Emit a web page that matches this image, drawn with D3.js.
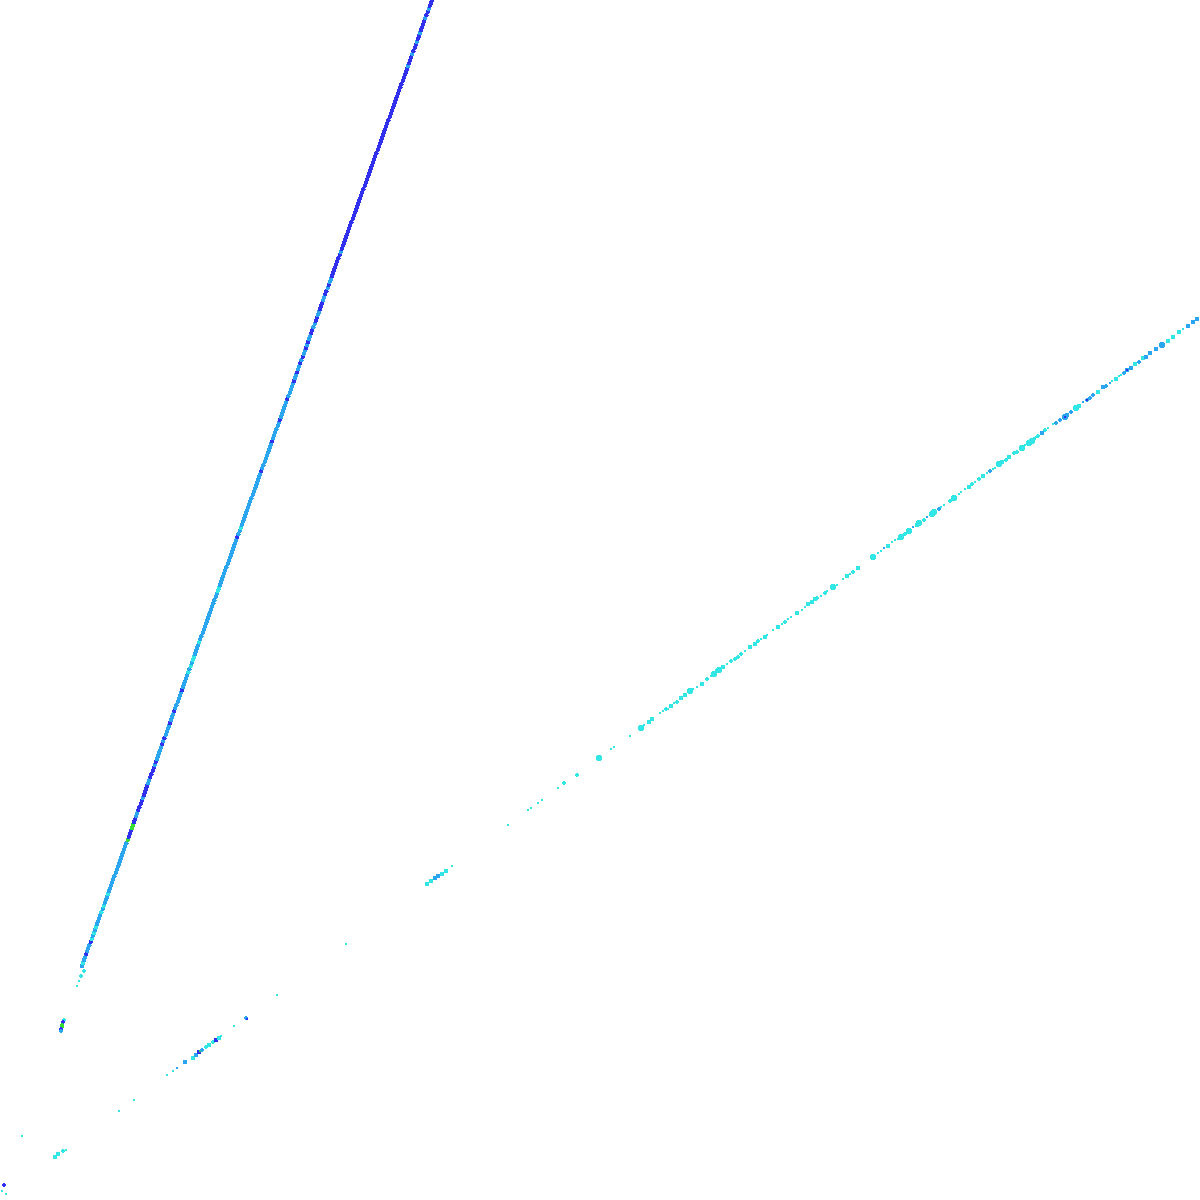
<!DOCTYPE html>
<html>
<head>
<meta charset="utf-8">
<script src="https://cdnjs.cloudflare.com/ajax/libs/d3/7.8.5/d3.min.js"></script>
<style>
  html, body { margin: 0; padding: 0; background: #ffffff; }
  svg { display: block; }
</style>
</head>
<body>
<div id="chart"></div>
<script>
var width = 1200, height = 1200;

// axis domains (no axes are drawn in the picture)
var xDomain = [0, 120];
var yDomain = [0, 120];

// colour categories: c = cyan, s = sky, b = blue, g = green
var categoryKeys = ["c", "s", "b", "g"];
var categoryColors = ["#33e6e6", "#2aa6f0", "#3030ee", "#33dd33"];

// steep band, [x, y]
var steepPoints = [
  [8.19,23.4],[8.30,23.7],[8.41,24.0],[8.52,24.3],[8.63,24.6],[8.73,24.9],[8.84,25.2],[8.95,25.5],[9.06,25.8],[9.17,26.1],
  [9.28,26.4],[9.39,26.7],[9.49,27.0],[9.60,27.3],[9.71,27.6],[9.82,27.9],[9.93,28.2],[10.04,28.5],[10.15,28.8],[10.26,29.1],
  [10.36,29.4],[10.47,29.7],[10.58,30.0],[10.69,30.3],[10.80,30.6],[10.91,30.9],[11.02,31.2],[11.13,31.5],[11.23,31.8],[11.34,32.1],
  [11.45,32.4],[11.56,32.7],[11.67,33.0],[11.78,33.3],[11.89,33.6],[12.00,33.9],[12.10,34.2],[12.21,34.5],[12.32,34.8],[12.43,35.1],
  [12.54,35.4],[12.65,35.7],[12.76,36.0],[12.87,36.3],[12.97,36.6],[13.08,36.9],[13.19,37.2],[13.30,37.5],[13.41,37.8],[13.52,38.1],
  [13.63,38.4],[13.74,38.7],[13.84,39.0],[13.95,39.3],[14.06,39.6],[14.17,39.9],[14.28,40.2],[14.39,40.5],[14.50,40.8],[14.60,41.1],
  [14.71,41.4],[14.82,41.7],[14.93,42.0],[15.04,42.3],[15.15,42.6],[15.26,42.9],[15.37,43.2],[15.47,43.5],[15.58,43.8],[15.69,44.1],
  [15.80,44.4],[15.91,44.7],[16.02,45.0],[16.13,45.3],[16.24,45.6],[16.34,45.9],[16.45,46.2],[16.56,46.5],[16.67,46.8],[16.78,47.1],
  [16.89,47.4],[17.00,47.7],[17.10,48.0],[17.21,48.3],[17.32,48.6],[17.43,48.9],[17.54,49.2],[17.65,49.5],[17.76,49.8],[17.87,50.1],
  [17.98,50.4],[18.08,50.7],[18.19,51.0],[18.30,51.3],[18.41,51.6],[18.52,51.9],[18.63,52.2],[18.74,52.5],[18.85,52.8],[18.95,53.1],
  [19.06,53.4],[19.17,53.7],[19.28,54.0],[19.39,54.3],[19.50,54.6],[19.61,54.9],[19.71,55.2],[19.82,55.5],[19.93,55.8],[20.04,56.1],
  [20.15,56.4],[20.26,56.7],[20.37,57.0],[20.47,57.3],[20.58,57.6],[20.69,57.9],[20.80,58.2],[20.91,58.5],[21.02,58.8],[21.13,59.1],
  [21.24,59.4],[21.35,59.7],[21.45,60.0],[21.56,60.3],[21.67,60.6],[21.78,60.9],[21.89,61.2],[22.00,61.5],[22.11,61.8],[22.21,62.1],
  [22.32,62.4],[22.43,62.7],[22.54,63.0],[22.65,63.3],[22.76,63.6],[22.87,63.9],[22.98,64.2],[23.09,64.5],[23.19,64.8],[23.30,65.1],
  [23.41,65.4],[23.52,65.7],[23.63,66.0],[23.74,66.3],[23.85,66.6],[23.96,66.9],[24.06,67.2],[24.17,67.5],[24.28,67.8],[24.39,68.1],
  [24.50,68.4],[24.61,68.7],[24.72,69.0],[24.82,69.3],[24.93,69.6],[25.04,69.9],[25.15,70.2],[25.26,70.5],[25.37,70.8],[25.48,71.1],
  [25.59,71.4],[25.69,71.7],[25.80,72.0],[25.91,72.3],[26.02,72.6],[26.13,72.9],[26.24,73.2],[26.35,73.5],[26.46,73.8],[26.56,74.1],
  [26.67,74.4],[26.78,74.7],[26.89,75.0],[27.00,75.3],[27.11,75.6],[27.22,75.9],[27.32,76.2],[27.43,76.5],[27.54,76.8],[27.65,77.1],
  [27.76,77.4],[27.87,77.7],[27.98,78.0],[28.09,78.3],[28.20,78.6],[28.30,78.9],[28.41,79.2],[28.52,79.5],[28.63,79.8],[28.74,80.1],
  [28.85,80.4],[28.96,80.7],[29.06,81.0],[29.17,81.3],[29.28,81.6],[29.39,81.9],[29.50,82.2],[29.61,82.5],[29.72,82.8],[29.82,83.1],
  [29.93,83.4],[30.04,83.7],[30.15,84.0],[30.26,84.3],[30.37,84.6],[30.48,84.9],[30.59,85.2],[30.70,85.5],[30.80,85.8],[30.91,86.1],
  [31.02,86.4],[31.13,86.7],[31.24,87.0],[31.35,87.3],[31.46,87.6],[31.56,87.9],[31.67,88.2],[31.78,88.5],[31.89,88.8],[32.00,89.1],
  [32.11,89.4],[32.22,89.7],[32.33,90.0],[32.43,90.3],[32.54,90.6],[32.65,90.9],[32.76,91.2],[32.87,91.5],[32.98,91.8],[33.09,92.1],
  [33.20,92.4],[33.30,92.7],[33.41,93.0],[33.52,93.3],[33.63,93.6],[33.74,93.9],[33.85,94.2],[33.96,94.5],[34.07,94.8],[34.17,95.1],
  [34.28,95.4],[34.39,95.7],[34.50,96.0],[34.61,96.3],[34.72,96.6],[34.83,96.9],[34.93,97.2],[35.04,97.5],[35.15,97.8],[35.26,98.1],
  [35.37,98.4],[35.48,98.7],[35.59,99.0],[35.70,99.3],[35.80,99.6],[35.91,99.9],[36.02,100.2],[36.13,100.5],[36.24,100.8],[36.35,101.1],
  [36.46,101.4],[36.57,101.7],[36.67,102.0],[36.78,102.3],[36.89,102.6],[37.00,102.9],[37.11,103.2],[37.22,103.5],[37.33,103.8],[37.44,104.1],
  [37.54,104.4],[37.65,104.7],[37.76,105.0],[37.87,105.3],[37.98,105.6],[38.09,105.9],[38.20,106.2],[38.31,106.5],[38.41,106.8],[38.52,107.1],
  [38.63,107.4],[38.74,107.7],[38.85,108.0],[38.96,108.3],[39.07,108.6],[39.18,108.9],[39.28,109.2],[39.39,109.5],[39.50,109.8],[39.61,110.1],
  [39.72,110.4],[39.83,110.7],[39.94,111.0],[40.05,111.3],[40.15,111.6],[40.26,111.9],[40.37,112.2],[40.48,112.5],[40.59,112.8],[40.70,113.1],
  [40.81,113.4],[40.92,113.7],[41.02,114.0],[41.13,114.3],[41.24,114.6],[41.35,114.9],[41.46,115.2],[41.57,115.5],[41.68,115.8],[41.78,116.1],
  [41.89,116.4],[42.00,116.7],[42.11,117.0],[42.22,117.3],[42.33,117.6],[42.44,117.9],[42.54,118.2],[42.65,118.5],[42.76,118.8],[42.87,119.1],
  [42.98,119.4],[43.09,119.7],[43.20,120.0]
];
// one category per steep point, in the same order
var steepCategories =
  "scssbsssbc" + "scscsssscs" + "cssscsssss" + "ssssssssss" + "ssgbbbggbb" +
  "ssbbbbsbbb" + "bssbbbbsbs" + "ssssbsbsss" + "sbsssbssss" + "ssbssssscs" +
  "csccsssscs" + "ssssssssss" + "sssssccsss" + "ssssssssss" + "sssbsscsss" +
  "ssssssssss" + "sssssbssss" + "sssssbssss" + "ssbssssssb" + "sssssbssbs" +
  "sbsbssbsbs" + "sbbssbbssb" + "bbssbbsbss" + "bbbbbbbbsb" + "bbbbbbbbbb" +
  "bbbbbbbbbb" + "bbbbbbbbbb" + "bbbbbbbbbb" + "bbbbbbbbbb" + "bbbbbbbbbb" +
  "sbbbsbbbsb" + "bsbbbbsbbs" + "bbb";

// loose points below the steep band, [x, y, size, category]
var steepExtra = [
  [8.4,22.9,2,"c"],[8.1,22.4,2,"c"],[7.9,21.9,1,"c"],[7.7,21.4,1,"c"],
  [6.4,18.0,2,"c"],[6.3,17.8,2,"b"],[6.2,17.5,2,"g"],[6.2,17.3,2,"g"],[6.1,17.1,2,"b"],[6.1,16.9,2,"s"],
  [2.2,6.4,1,"c"],[0.4,1.5,2,"b"],[0.2,0.9,1,"c"],[0.6,0.6,1,"c"]
];

// shallow band, [x, y, size, category]
var shallowPoints = [
  [5.5,4.3,3,"c"],[5.8,4.6,3,"c"],[6.3,4.9,2,"c"],[6.6,5.0,1,"c"],
  [11.9,8.9,1,"c"],[13.4,10.0,1,"c"],[16.7,12.5,1,"c"],[17.3,12.9,1,"c"],[17.7,13.2,1,"s"],
  [18.5,13.8,3,"s"],[19.3,14.2,3,"c"],[19.6,14.5,3,"s"],[19.9,14.8,3,"b"],[20.0,14.9,1,"g"],[20.2,15.0,2,"s"],
  [20.6,15.3,2,"c"],[20.9,15.5,3,"c"],[21.3,15.8,2,"c"],[21.6,16.0,3,"b"],[21.9,16.2,3,"c"],[22.1,16.4,1,"c"],
  [23.4,17.4,1,"c"],[24.6,18.2,2,"s"],[24.7,18.1,1,"b"],[27.7,20.5,1,"c"],[34.6,25.6,1,"c"],
  [42.7,31.6,3,"c"],[43.1,31.9,3,"c"],[43.5,32.2,3,"s"],[43.8,32.4,3,"s"],[44.2,32.6,3,"c"],[44.6,32.9,3,"c"],[45.2,33.4,1,"c"],
  [50.8,37.5,1,"c"],[52.8,39.0,1,"c"],[53.1,39.2,1,"c"],[53.8,39.7,1,"c"],[54.2,40.0,1,"c"],
  [55.8,41.2,1,"c"],[56.4,41.7,2,"c"],[57.7,42.5,2,"c"],[59.9,44.2,4,"c"],[61.1,45.1,1,"c"],[61.4,45.3,1,"c"],[63.0,46.4,1,"c"],
  [64.1,47.2,4,"c"],[64.4,47.5,1,"c"],[64.9,47.8,3,"c"],[65.2,48.1,3,"c"],[66.0,48.7,1,"c"],[66.3,48.9,1,"c"],
  [66.6,49.1,2,"c"],[66.8,49.1,1,"c"],[67.1,49.4,3,"c"],[67.4,49.7,1,"c"],[67.7,49.8,2,"c"],[68.1,50.2,3,"c"],
  [68.5,50.5,3,"c"],[69.0,50.9,4,"c"],[69.3,51.1,1,"c"],[69.7,51.3,1,"c"],[70.2,51.6,3,"c"],[70.7,52.1,2,"c"],
  [71.1,52.4,1,"c"],[71.4,52.6,4,"c"],[71.7,52.9,3,"c"],[71.9,53.0,4,"c"],[72.3,53.3,3,"c"],[72.7,53.6,1,"c"],
  [73.1,53.9,2,"c"],[73.5,54.1,2,"c"],[73.8,54.3,2,"c"],[74.1,54.6,2,"c"],[74.5,54.9,1,"c"],[75.0,55.3,3,"c"],
  [75.5,55.6,3,"c"],[75.8,55.9,2,"c"],[76.1,56.1,1,"c"],[76.5,56.3,3,"c"],[76.7,56.5,1,"c"],[77.3,57.0,1,"c"],
  [77.8,57.3,3,"c"],[78.2,57.6,1,"c"],[78.5,57.8,2,"c"],[78.8,58.1,1,"c"],[79.1,58.3,1,"c"],[79.7,58.7,3,"c"],
  [80.2,59.0,1,"c"],[80.5,59.3,1,"c"],[80.8,59.6,3,"c"],[81.2,59.8,3,"c"],[81.5,60.1,3,"c"],[81.7,60.2,2,"c"],
  [82.1,60.4,1,"c"],[82.5,60.7,2,"c"],[82.7,60.9,1,"c"],[83.3,61.3,4,"c"],[83.7,61.5,1,"c"],[84.3,62.1,1,"c"],
  [84.7,62.4,3,"c"],[85.0,62.6,1,"c"],[85.3,62.8,2,"c"],[85.8,63.2,3,"c"],
  [87.3,64.3,4,"c"],[87.8,64.7,1,"c"],[88.1,64.9,1,"c"],[88.4,65.2,1,"s"],[88.8,65.4,3,"c"],[89.2,65.8,1,"c"],
  [89.5,66.0,1,"c"],[89.8,66.1,1,"c"],[90.1,66.3,4,"c"],[90.5,66.6,2,"c"],[90.9,66.9,4,"c"],[91.3,67.3,1,"s"],
  [91.7,67.5,3,"c"],[91.9,67.7,4,"c"],[92.4,68.0,2,"c"],[92.7,68.3,1,"s"],[93.2,68.6,4,"c"],[93.4,68.8,4,"c"],
  [93.9,69.1,2,"s"],[94.1,69.3,1,"c"],[94.4,69.5,1,"c"],[95.0,69.9,2,"c"],[95.4,70.2,4,"c"],[95.9,70.6,1,"c"],
  [96.1,70.8,1,"c"],[96.5,71.1,1,"c"],[96.9,71.3,3,"c"],[97.2,71.6,2,"c"],[97.5,71.8,1,"c"],[97.9,72.1,2,"c"],
  [98.3,72.4,3,"c"],[98.7,72.7,1,"c"],[99.0,72.9,2,"s"],[99.3,73.1,1,"c"],[99.5,73.2,1,"c"],[99.9,73.6,4,"c"],
  [100.2,73.8,3,"c"],[100.6,74.0,2,"c"],[100.9,74.3,3,"c"],[101.4,74.7,2,"c"],[101.7,74.8,2,"c"],[102.2,75.2,4,"c"],
  [102.5,75.5,1,"c"],[102.9,75.7,4,"c"],[103.2,75.9,4,"c"],[103.4,76.1,2,"c"],[103.6,76.3,1,"c"],[103.8,76.4,2,"c"],
  [104.2,76.7,3,"s"],[104.5,77.0,2,"c"],[104.8,77.2,1,"c"],[105.3,77.6,1,"c"],[105.6,77.7,2,"s"],[106.0,78.0,2,"s"],
  [106.5,78.3,4,"s"],[106.7,78.5,3,"s"],[107.1,78.8,2,"s"],[107.6,79.2,4,"c"],[107.9,79.4,3,"c"],[108.3,79.8,1,"s"],
  [108.7,80.0,2,"s"],[109.0,80.2,2,"s"],[109.3,80.5,2,"s"],[109.8,80.8,3,"c"],[110.3,81.3,3,"s"],[110.6,81.4,2,"s"],
  [111.0,81.7,1,"s"],[111.2,81.9,1,"c"],[111.6,82.1,3,"c"],[111.9,82.4,1,"c"],[112.1,82.5,1,"c"],[112.4,82.7,2,"s"],
  [112.7,83.0,3,"s"],[113.1,83.2,3,"s"],[113.5,83.6,3,"c"],[113.9,83.8,2,"s"],[114.3,84.2,3,"c"],[114.6,84.3,3,"s"],
  [115.0,84.7,3,"s"],[115.6,85.1,3,"s"],[116.2,85.5,4,"s"],[116.8,85.9,3,"c"],[117.3,86.3,3,"c"],[117.9,86.8,3,"c"],
  [118.3,87.1,1,"c"],[118.8,87.4,3,"s"],[119.3,87.8,3,"s"],[119.7,88.1,3,"s"],
  [106.5,78.3,1,"b"],[108.7,80.0,1,"b"],[112.7,83.0,1,"b"]
];

var steepSize = 2.6;

var x = d3.scaleLinear().domain(xDomain).range([0, width]);
var y = d3.scaleLinear().domain(yDomain).range([height, 0]);
var color = d3.scaleOrdinal().domain(categoryKeys).range(categoryColors);
var radius = d3.scaleLinear().domain([1, 4]).range([1.0, 3.2]);

var toPoint = function(p) {
    return {x: p[0], y: p[1], size: p[2], cat: p[3]};
};

var steep = steepPoints.map(function(p, i) {
    return {x: p[0], y: p[1], size: steepSize, cat: steepCategories[i]};
});

var svg = d3.select("#chart").append("svg")
    .attr("width", width)
    .attr("height", height);

svg.append("rect")
    .attr("width", width)
    .attr("height", height)
    .attr("fill", "#ffffff");

var drawPoints = function(data, cls) {
    svg.append("g")
        .attr("class", cls)
        .selectAll("circle")
        .data(data)
        .join("circle")
        .attr("cx", function(d) { return x(d.x); })
        .attr("cy", function(d) { return y(d.y); })
        .attr("r", function(d) { return radius(d.size); })
        .attr("fill", function(d) { return color(d.cat); })
        .attr("shape-rendering", "crispEdges");
};

drawPoints(shallowPoints.map(toPoint), "shallow");
drawPoints(steepExtra.map(toPoint), "steep-extra");
drawPoints(steep, "steep");
</script>
</body>
</html>
